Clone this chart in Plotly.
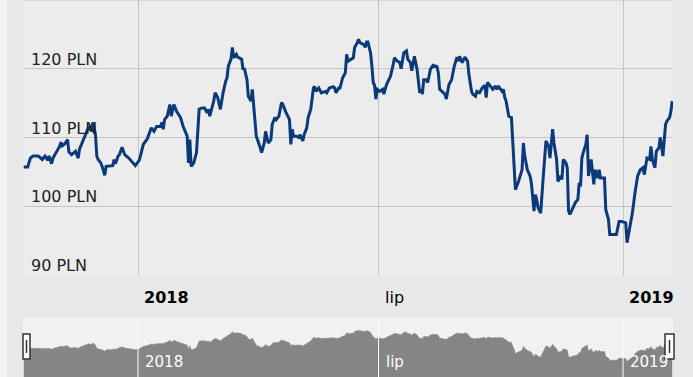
import plotly.graph_objects as go

W, H = 693, 377

dates = [
    "2017-10-07", "2017-10-10", "2017-10-12", "2017-10-14", "2017-10-18", "2017-10-21", "2017-10-23",
    "2017-10-25", "2017-10-26", "2017-10-28", "2017-10-29", "2017-11-01", "2017-11-03", "2017-11-04",
    "2017-11-05", "2017-11-07", "2017-11-09", "2017-11-10", "2017-11-12", "2017-11-15", "2017-11-17",
    "2017-11-18", "2017-11-21", "2017-11-23", "2017-11-25", "2017-11-27", "2017-11-28", "2017-11-30",
    "2017-12-01", "2017-12-02", "2017-12-04", "2017-12-05", "2017-12-07", "2017-12-08", "2017-12-11",
    "2017-12-13", "2017-12-14", "2017-12-15", "2017-12-17", "2017-12-18", "2017-12-20", "2017-12-22",
    "2017-12-25", "2017-12-30", "2018-01-02", "2018-01-05", "2018-01-08", "2018-01-10", "2018-01-11",
    "2018-01-13", "2018-01-15", "2018-01-18", "2018-01-19", "2018-01-20", "2018-01-21", "2018-01-23",
    "2018-01-25", "2018-01-26", "2018-01-28", "2018-01-30", "2018-02-02", "2018-02-04", "2018-02-07",
    "2018-02-08", "2018-02-09", "2018-02-10", "2018-02-12", "2018-02-14", "2018-02-16", "2018-02-18",
    "2018-02-20", "2018-02-22", "2018-02-23", "2018-02-24", "2018-02-27", "2018-02-28", "2018-03-02",
    "2018-03-04", "2018-03-06", "2018-03-08", "2018-03-09", "2018-03-10", "2018-03-12", "2018-03-13",
    "2018-03-14", "2018-03-16", "2018-03-17", "2018-03-20", "2018-03-21", "2018-03-22", "2018-03-24",
    "2018-03-25", "2018-03-27", "2018-03-28", "2018-03-29", "2018-03-31", "2018-04-03", "2018-04-04",
    "2018-04-06", "2018-04-07", "2018-04-09", "2018-04-11", "2018-04-12", "2018-04-14", "2018-04-15",
    "2018-04-17", "2018-04-19", "2018-04-20", "2018-04-22", "2018-04-23", "2018-04-25", "2018-04-26",
    "2018-04-27", "2018-04-28", "2018-04-30", "2018-05-02", "2018-05-03", "2018-05-05", "2018-05-06",
    "2018-05-08", "2018-05-09", "2018-05-11", "2018-05-13", "2018-05-14", "2018-05-15", "2018-05-17",
    "2018-05-19", "2018-05-22", "2018-05-23", "2018-05-25", "2018-05-28", "2018-05-29", "2018-05-30",
    "2018-06-01", "2018-06-02", "2018-06-04", "2018-06-06", "2018-06-07", "2018-06-08", "2018-06-12",
    "2018-06-13", "2018-06-15", "2018-06-16", "2018-06-17", "2018-06-20", "2018-06-21", "2018-06-22",
    "2018-06-23", "2018-06-25", "2018-06-26", "2018-06-27", "2018-06-28", "2018-06-29", "2018-06-30",
    "2018-07-02", "2018-07-04", "2018-07-05", "2018-07-07", "2018-07-08", "2018-07-10", "2018-07-12",
    "2018-07-13", "2018-07-15", "2018-07-17", "2018-07-18", "2018-07-20", "2018-07-22", "2018-07-23",
    "2018-07-25", "2018-07-26", "2018-07-28", "2018-07-29", "2018-07-30", "2018-08-01", "2018-08-02",
    "2018-08-03", "2018-08-04", "2018-08-06", "2018-08-07", "2018-08-09", "2018-08-11", "2018-08-14",
    "2018-08-15", "2018-08-16", "2018-08-18", "2018-08-20", "2018-08-21", "2018-08-23", "2018-08-25",
    "2018-08-27", "2018-08-29", "2018-08-30", "2018-08-31", "2018-09-02", "2018-09-04", "2018-09-06",
    "2018-09-07", "2018-09-09", "2018-09-10", "2018-09-12", "2018-09-13", "2018-09-15", "2018-09-17",
    "2018-09-19", "2018-09-20", "2018-09-21", "2018-09-23", "2018-09-25", "2018-09-27", "2018-09-28",
    "2018-09-29", "2018-10-02", "2018-10-03", "2018-10-04", "2018-10-05", "2018-10-07", "2018-10-09",
    "2018-10-10", "2018-10-11", "2018-10-12", "2018-10-14", "2018-10-17", "2018-10-18", "2018-10-19",
    "2018-10-21", "2018-10-23", "2018-10-24", "2018-10-26", "2018-10-27", "2018-10-28", "2018-10-29",
    "2018-10-31", "2018-11-02", "2018-11-04", "2018-11-06", "2018-11-07", "2018-11-09", "2018-11-10",
    "2018-11-12", "2018-11-13", "2018-11-15", "2018-11-16", "2018-11-17", "2018-11-19", "2018-11-20",
    "2018-11-21", "2018-11-22", "2018-11-24", "2018-11-26", "2018-11-28", "2018-11-29", "2018-11-30",
    "2018-12-01", "2018-12-02", "2018-12-04", "2018-12-05", "2018-12-06", "2018-12-08", "2018-12-09",
    "2018-12-10", "2018-12-11", "2018-12-13", "2018-12-14", "2018-12-15", "2018-12-18", "2018-12-19",
    "2018-12-21", "2018-12-22", "2018-12-27", "2018-12-29", "2018-12-31", "2019-01-03", "2019-01-04",
    "2019-01-06", "2019-01-08", "2019-01-10", "2019-01-12", "2019-01-14", "2019-01-16", "2019-01-17",
    "2019-01-18", "2019-01-19", "2019-01-21", "2019-01-22", "2019-01-23", "2019-01-25", "2019-01-26",
    "2019-01-28", "2019-01-29", "2019-01-31", "2019-02-02", "2019-02-03", "2019-02-05", "2019-02-06",
    "2019-02-07",
]

prices = [
    105.7, 105.7, 107.0, 107.3, 107.3, 106.8, 107.3,
    106.7, 107.3, 106.2, 107.0, 108.0, 108.7, 109.3,
    108.8, 109.1, 109.7, 107.9, 107.5, 108.0, 107.0,
    108.3, 109.7, 110.9, 111.6, 110.9, 112.2, 110.4,
    107.3, 106.8, 106.3, 105.8, 104.5, 105.8, 105.9,
    105.9, 106.8, 106.2, 107.3, 107.5, 108.6, 107.5,
    107.0, 105.9, 106.7, 109.0, 109.8, 110.9, 111.4,
    110.9, 111.6, 111.6, 112.2, 111.2, 112.6, 113.1,
    114.8, 113.1, 114.8, 113.8, 112.9, 111.6, 110.2,
    106.3, 109.7, 105.8, 106.3, 107.8, 114.1, 114.3,
    114.3, 113.6, 114.1, 113.1, 115.3, 116.5, 115.8,
    114.1, 116.5, 118.2, 118.7, 120.4, 121.4, 123.1,
    121.6, 122.1, 121.7, 121.4, 119.9, 120.1, 118.4,
    116.0, 115.3, 117.0, 114.6, 110.2, 108.5, 107.8,
    109.2, 110.9, 109.2, 109.7, 111.9, 112.9, 112.6,
    113.1, 115.1, 114.8, 113.8, 113.3, 112.6, 109.0,
    111.2, 110.2, 110.2, 110.0, 110.4, 109.5, 110.4,
    111.4, 112.9, 114.1, 117.2, 117.4, 116.7, 117.2,
    116.5, 116.7, 116.5, 117.2, 117.4, 117.2, 116.5,
    117.2, 117.2, 118.7, 119.4, 122.1, 121.1, 121.6,
    123.1, 123.8, 124.3, 123.8, 123.5, 123.1, 123.9,
    123.9, 122.3, 120.4, 118.0, 117.6, 115.6, 117.0,
    116.7, 117.0, 116.3, 117.7, 118.2, 118.9, 120.6,
    121.6, 121.1, 120.9, 120.0, 122.3, 122.6, 121.4,
    120.9, 119.7, 121.8, 120.9, 119.9, 116.5, 117.0,
    116.3, 118.4, 118.4, 118.0, 119.9, 120.5, 120.3,
    119.4, 117.0, 116.7, 116.3, 115.6, 117.7, 118.4,
    120.4, 121.7, 121.1, 121.8, 120.9, 121.7, 121.1,
    119.2, 116.7, 116.3, 116.0, 116.7, 116.5, 117.2,
    117.6, 115.8, 118.0, 117.5, 117.0, 117.5, 117.0,
    117.5, 116.7, 117.0, 115.8, 115.3, 113.1, 112.9,
    109.0, 106.8, 102.4, 103.4, 105.3, 109.2, 107.3,
    105.3, 104.4, 103.4, 99.3, 101.7, 101.0, 99.8,
    99.0, 104.4, 109.5, 108.7, 107.0, 111.2, 109.2,
    106.8, 103.6, 104.4, 103.9, 106.8, 106.3, 105.6,
    99.3, 98.8, 99.8, 100.5, 101.0, 103.4, 102.9,
    107.0, 107.8, 109.0, 110.4, 104.4, 106.8, 104.4,
    103.2, 105.3, 104.1, 105.3, 104.1, 104.1, 99.5,
    98.1, 95.9, 95.9, 97.8, 97.8, 97.6, 94.7,
    96.6, 99.0, 102.0, 104.4, 105.3, 105.6, 104.6,
    106.1, 107.0, 106.8, 108.7, 106.8, 105.6, 108.0,
    108.5, 110.0, 107.3, 111.9, 112.4, 112.9, 113.8,
    115.3,
]

tick_dates = ["2018-01-01", "2018-07-01", "2019-01-01"]
tick_labels = ["<b>2018</b>", "lip", "<b>2019</b>"]
nav_labels = ["2018", "lip", "2019"]
y_ticks = [90, 100, 110, 120, 130]
y_labels = ["90 PLN", "100 PLN", "110 PLN", "120 PLN"]

x_range = ["2017-10-06 11:00", "2019-02-07 14:00"]
FONT = "DejaVu Sans"
LINE = "#0b3a7a"
GRID = "#c4c4c4"


def px_x(p):
    return p / W


def px_y(p):
    return (H - p) / H


fig = go.Figure()
fig.add_trace(go.Scatter(x=dates, y=prices, mode="lines",
                         line=dict(color=LINE, width=3), xaxis="x", yaxis="y",
                         hoverinfo="skip"))
fig.add_trace(go.Scatter(x=dates, y=prices, mode="lines", fill="tozeroy",
                         fillcolor="#858585", line=dict(color="#858585", width=0.5),
                         xaxis="x2", yaxis="y2", hoverinfo="skip"))

xdom = [px_x(23), px_x(673)]

shapes = []
shapes.append(dict(type="rect", xref="x2 domain", yref="y2 domain", x0=0, x1=1, y0=0, y1=1,
                   fillcolor="#f1f1f1", line=dict(width=0), layer="below"))
shapes.append(dict(type="rect", xref="paper", yref="paper", x0=0, x1=px_x(7), y0=0, y1=1,
                   fillcolor="#f3f3f3", line=dict(width=0), layer="below"))
# top edge grid line (130)
shapes.append(dict(type="line", xref="x domain", yref="y", x0=0, x1=1, y0=y_ticks[-1], y1=y_ticks[-1],
                   line=dict(color=GRID, width=1), layer="below"))
for d in tick_dates:
    shapes.append(dict(type="line", xref="x2", yref="y2 domain", x0=d, x1=d, y0=0, y1=1,
                       line=dict(color="white", width=1), layer="above"))
for (a, b) in [(23, 30), (665, 674)]:
    shapes.append(dict(type="rect", xref="paper", yref="paper",
                       x0=px_x(a), x1=px_x(b), y0=px_y(359), y1=px_y(334),
                       fillcolor="white", line=dict(color="#333333", width=1.5), layer="above"))
    mid = (a + b) / 2
    shapes.append(dict(type="line", xref="paper", yref="paper",
                       x0=px_x(mid), x1=px_x(mid), y0=px_y(353), y1=px_y(340),
                       line=dict(color="#333333", width=1.5), layer="above"))

annotations = []
for v, t in zip(y_ticks, y_labels):
    annotations.append(dict(text=t, xref="paper", yref="y", x=px_x(29), y=v,
                            xanchor="left", yanchor="bottom", yshift=-2, showarrow=False,
                            font=dict(family=FONT, size=16, color="#222222")))
for d, t, n in zip(tick_dates, tick_labels, nav_labels):
    annotations.append(dict(text=t, xref="x", yref="paper", x=d, y=px_y(297),
                            xanchor="left", yanchor="middle", xshift=4, showarrow=False,
                            font=dict(family=FONT, size=16, color="#000000")))
    annotations.append(dict(text=n, xref="x2", yref="paper",
                            x=d, y=px_y(362), xanchor="left", yanchor="middle", xshift=5,
                            showarrow=False, font=dict(family=FONT, size=15, color="white")))

fig.update_layout(
    width=W, height=H, margin=dict(l=0, r=0, t=0, b=0),
    paper_bgcolor="#e8e8e8", plot_bgcolor="#ececec",
    showlegend=False, hovermode=False,
    xaxis=dict(domain=xdom, range=x_range, type="date", anchor="y",
               tickvals=tick_dates, showticklabels=False, showgrid=True,
               gridcolor=GRID, gridwidth=1, zeroline=False, showline=False, ticks=""),
    yaxis=dict(domain=[px_y(275), 1], range=[90, 130], anchor="x",
               tickvals=y_ticks, showticklabels=False, showgrid=True,
               gridcolor=GRID, gridwidth=1, zeroline=False, showline=False, ticks=""),
    xaxis2=dict(domain=xdom, range=x_range, type="date", anchor="y2",
                showticklabels=False, showgrid=False, zeroline=False, showline=False, ticks=""),
    yaxis2=dict(domain=[0, px_y(318)], range=[80, 136], anchor="x2",
                showticklabels=False, showgrid=False, zeroline=False, showline=False, ticks=""),
    shapes=shapes, annotations=annotations,
)

fig.write_html("out.html", config={"displayModeBar": False},
               post_script="document.body.style.margin='0px';")
